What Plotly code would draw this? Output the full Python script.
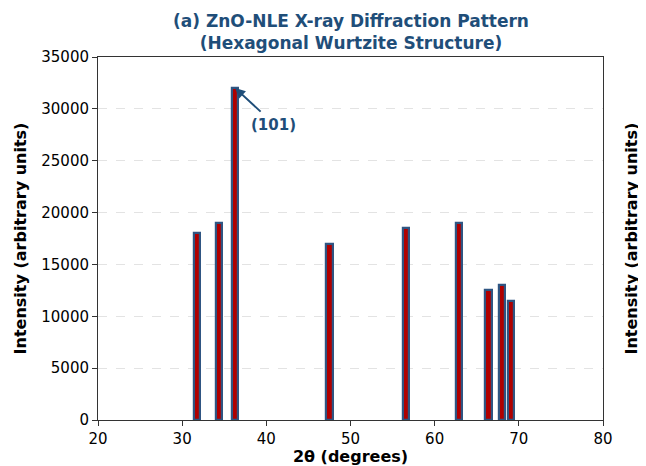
import plotly.graph_objects as go

two_theta = [31.8, 34.4, 36.3, 47.5, 56.6, 62.9, 66.4, 68.0, 69.1]
intensity = [18000, 19000, 32000, 17000, 18500, 19000, 12500, 13000, 11500]
y_ticks = [0, 5000, 10000, 15000, 20000, 25000, 30000, 35000]
x_ticks = [20, 30, 40, 50, 60, 70, 80]
peak_label = "(101)"
peak_x = 36.3
peak_y = 32000

title_color = "#1f4e79"
font_family = "DejaVu Sans"

fig = go.Figure()
fig.add_trace(go.Bar(
    x=two_theta, y=intensity, width=0.75,
    marker=dict(color="#b00000", line=dict(color="#2f5582", width=2.2)),
    showlegend=False,
))

fig.add_annotation(
    x=peak_x, y=peak_y, ax=39.5, ay=29600, axref="x", ayref="y",
    xref="x", yref="y", text="", showarrow=True,
    arrowhead=2, arrowsize=1, arrowwidth=2, arrowcolor=title_color,
)
fig.add_annotation(
    x=40.8, y=28400, xref="x", yref="y", text="<b>" + peak_label + "</b>",
    showarrow=False, font=dict(family=font_family, size=15, color=title_color),
)
fig.add_annotation(
    x=1.0, xref="paper", xshift=28, xanchor="center", y=0.5, yref="paper",
    text="<b>Intensity (arbitrary units)</b>", textangle=-90, showarrow=False,
    font=dict(family=font_family, size=16, color="black"),
)
fig.add_annotation(
    x=0.5, xref="paper", xanchor="center", y=1.0, yref="paper", yanchor="bottom",
    yshift=2,
    text="<b>(a) ZnO-NLE X-ray Diffraction Pattern<br>(Hexagonal Wurtzite Structure)</b>",
    showarrow=False,
    font=dict(family=font_family, size=17, color=title_color),
)

fig.update_layout(
    width=638, height=458,
    margin=dict(l=90, r=43, t=49, b=46),
    paper_bgcolor="white", plot_bgcolor="white",
    font=dict(family=font_family, size=15, color="black"),
    bargap=0,
)
fig.update_xaxes(
    range=[20, 80], tickvals=x_ticks, automargin=False,
    ticks="outside", ticklen=5, tickcolor="#333", showgrid=False,
    showline=True, linecolor="#333", linewidth=1, mirror=True, zeroline=False,
    title=dict(text="<b>2θ (degrees)</b>", font=dict(size=16), standoff=4),
)
fig.update_yaxes(
    range=[0, 35000], tickvals=y_ticks, tickformat="d", automargin=False,
    ticks="outside", ticklen=5, tickcolor="#333",
    showgrid=True, gridcolor="#e3e3e3", griddash="dash", gridwidth=1,
    showline=True, linecolor="#333", linewidth=1, mirror=True, zeroline=False,
    title=dict(text="<b>Intensity (arbitrary units)</b>", font=dict(size=16), standoff=10),
)

fig.write_html("out.html")
